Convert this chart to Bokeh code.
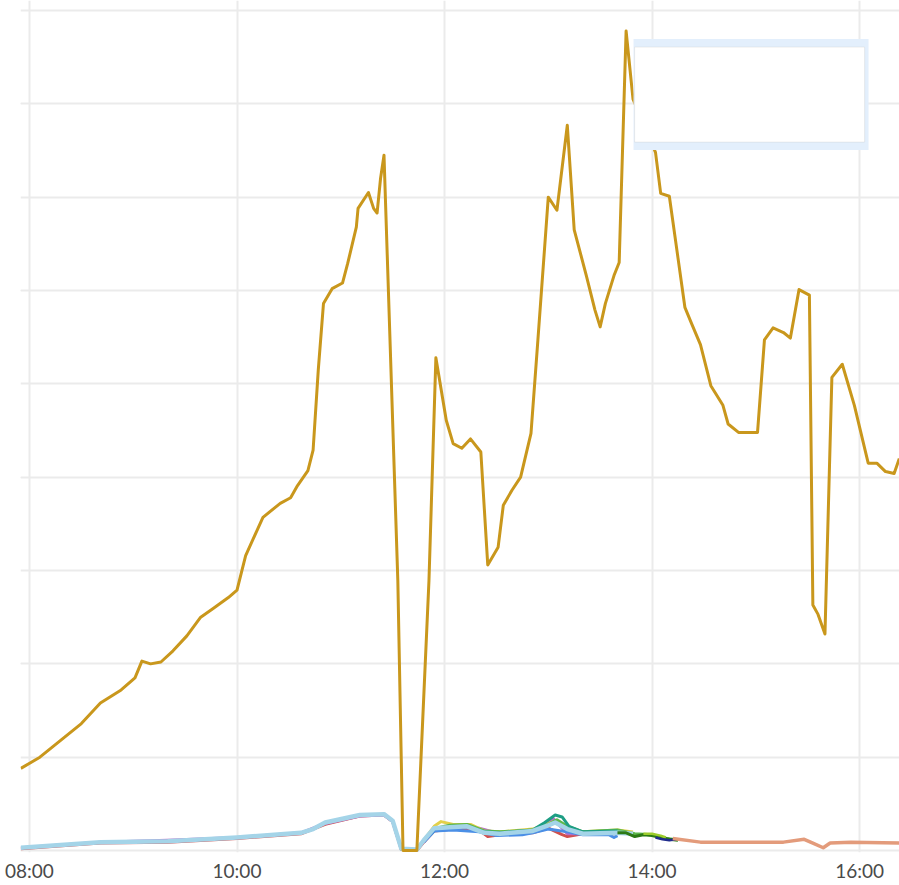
from datetime import datetime
from bokeh.plotting import figure
from bokeh.models import (Range1d, Grid, SingleIntervalTicker, FixedTicker,
                          DatetimeTickFormatter, BoxAnnotation)
from bokeh.embed import file_html
from bokeh.resources import INLINE

DAY = "2024-01-01"

# ---------------- data ----------------
tick_hours = ["08:00", "10:00", "12:00", "14:00", "16:00"]

total_t = ["07:55", "08:06", "08:18", "08:30", "08:41", "08:53", "09:01", "09:05", "09:10", "09:16",
           "09:23", "09:31", "09:39", "09:46", "09:55", "10:00", "10:05", "10:15", "10:25", "10:31",
           "10:35", "10:41", "10:44", "10:47", "10:50", "10:55", "11:01", "11:04", "11:09", "11:10",
           "11:16", "11:19", "11:21", "11:23", "11:25", "11:33", "11:36", "11:44", "11:51", "11:55",
           "12:01", "12:05", "12:10", "12:15", "12:21", "12:25", "12:31", "12:34", "12:39", "12:44",
           "12:50", "12:54", "13:00", "13:05", "13:11", "13:15", "13:22", "13:27", "13:30", "13:33",
           "13:38", "13:41", "13:45", "13:49", "14:02", "14:05", "14:10", "14:15", "14:19", "14:23",
           "14:28", "14:34", "14:41", "14:44", "14:50", "15:01", "15:05", "15:10", "15:16", "15:20",
           "15:25", "15:31", "15:33", "15:36", "15:40", "15:44", "15:50", "15:57", "16:05", "16:10",
           "16:15", "16:20", "16:23"]
total_v = [88, 100, 118, 136, 158, 172, 185, 203, 200, 202,
           214, 230, 250, 259, 271, 279, 316, 357, 372, 378,
           391, 407, 429, 515, 586, 602, 608, 629, 668, 688,
           705, 688, 683, 720, 745, 289, 0, 0, 289, 528,
           461, 436, 431, 441, 427, 306, 325, 370, 386, 400,
           447, 547, 700, 686, 777, 665, 616, 579, 561, 586,
           616, 630, 878, 805, 748, 704, 701, 635, 582, 564,
           542, 498, 477, 457, 448, 448, 547, 560, 555, 549,
           601, 595, 263, 253, 232, 507, 521, 477, 415, 415,
           406, 404, 420]

red_t = ["07:55", "08:41", "09:20", "10:00", "10:37", "10:51", "11:11", "11:25", "11:30", "11:35",
         "11:44", "11:48", "11:54", "12:05", "12:20", "12:25", "12:32", "12:51", "13:00", "13:08",
         "13:11", "13:20", "13:40"]
red_v = [2, 8, 9, 13, 18, 28, 37, 38, 31, 1, 0, 9, 21, 23, 22, 15, 17, 19, 24, 17, 15, 18, 18]

purple_t = ["07:55", "08:41", "09:20", "10:00", "10:37", "10:51", "11:11", "11:25", "11:30", "11:35",
            "11:44", "11:48", "11:54", "12:05", "12:20", "12:32", "12:51", "13:00", "13:03", "13:08",
            "13:11", "13:20", "13:40"]
purple_v = [3, 9, 11, 14, 19, 29, 37, 38, 31, 2, 1, 10, 22, 25, 24, 18, 21, 30, 34, 24, 18, 18, 19]

yellow_t = ["11:48", "11:54", "11:58", "12:05", "12:15", "12:23", "12:32", "12:51", "13:00", "13:05",
            "13:11", "13:20", "13:40", "13:49"]
yellow_v = [11, 26, 31, 28, 28, 21, 20, 23, 29, 32, 25, 20, 22, 20]

green_t = ["11:48", "11:55", "12:03", "12:13", "12:23", "12:32", "12:51", "13:00", "13:05", "13:11",
           "13:20", "13:40", "13:50", "14:00", "14:08", "14:12"]
green_v = [10, 24, 27, 28, 21, 20, 22, 28, 33, 26, 20, 22, 18, 17, 13, 12]

teal_t = ["11:48", "11:55", "12:05", "12:15", "12:23", "12:32", "12:51", "12:58", "13:04", "13:08",
          "13:12", "13:20", "13:40"]
teal_v = [10, 23, 26, 25, 20, 19, 22, 30, 38, 36, 26, 20, 21]

blue_t = ["11:48", "11:54", "12:05", "12:20", "12:30", "12:45", "12:51", "13:00", "13:11", "13:20",
          "13:35", "13:38", "13:40"]
blue_v = [9, 21, 22, 20, 16, 17, 19, 23, 20, 17, 17, 14, 16]

lightblue_t = ["07:55", "08:41", "09:20", "10:00", "10:37", "10:44", "10:51", "11:11", "11:25", "11:30",
               "11:35", "11:44", "11:48", "11:54", "12:03", "12:13", "12:23", "12:32", "12:51", "13:00",
               "13:04", "13:11", "13:20", "13:40", "13:49"]
lightblue_v = [3, 9, 10, 14, 19, 23, 30, 38, 39, 32, 2, 1, 11, 24, 25, 26, 19, 18, 21, 27,
               30, 23, 18, 19, 18]

darkgreen_t = ["13:40", "13:45", "13:50", "13:55", "14:00", "14:05", "14:10", "14:15"]
darkgreen_v = [19, 19, 15, 17, 16, 14, 12, 11]

lime_t = ["13:55", "14:00", "14:05", "14:08"]
lime_v = [18, 18, 16, 14]

navy_t = ["14:02", "14:06", "14:10", "14:14"]
navy_v = [14, 12, 11, 12]

salmon_t = ["14:12", "14:28", "14:38", "15:16", "15:28", "15:33", "15:39", "15:43", "15:55", "16:23"]
salmon_v = [13, 9, 9, 9, 12, 8, 3, 8, 9, 8]


def to_dt(lst):
    return [datetime.strptime(DAY + " " + s, "%Y-%m-%d %H:%M") for s in lst]


def ms(d):
    return (d - datetime(1970, 1, 1)).total_seconds() * 1000.0


x_start = datetime(2024, 1, 1, 7, 54, 48)
x_end = datetime(2024, 1, 1, 16, 23, 6)

p = figure(width=899, height=885, x_axis_type="datetime", y_axis_location=None,
           output_backend="svg", toolbar_location=None,
           x_range=Range1d(x_start, x_end), y_range=Range1d(-2.1, 910.7),
           min_border_left=20, min_border_right=0, min_border_top=0, min_border_bottom=33)
p.outline_line_color = None
p.background_fill_color = "white"
p.border_fill_color = "white"

p.xgrid.ticker = FixedTicker(ticks=[ms(d) for d in to_dt(tick_hours)])
p.xgrid.grid_line_color = "#ebebeb"
p.xgrid.grid_line_width = 2
p.add_layout(Grid(dimension=1, ticker=SingleIntervalTicker(interval=100),
                  grid_line_color="#ebebeb", grid_line_width=2))

ax = p.xaxis[0]
ax.ticker = FixedTicker(ticks=[ms(d) for d in to_dt(tick_hours)])
ax.formatter = DatetimeTickFormatter(hours="%H:%M", minutes="%H:%M", days="%H:%M")
ax.axis_line_color = None
ax.major_tick_line_color = None
ax.minor_tick_line_color = None
ax.major_tick_out = 0
ax.major_tick_in = 0
ax.minor_tick_out = 0
ax.minor_tick_in = 0
ax.major_label_standoff = 6
ax.major_label_text_font = "Lato"
ax.major_label_text_font_size = "19px"
ax.major_label_text_color = "#4a4a4a"

series = [
    (red_t, red_v, "#d0504e", 3.0),
    (purple_t, purple_v, "#b46cc9", 3.0),
    (yellow_t, yellow_v, "#e2d04a", 3.0),
    (green_t, green_v, "#5db84a", 3.0),
    (teal_t, teal_v, "#1e9e84", 3.0),
    (blue_t, blue_v, "#4b8fe6", 3.0),
    (lightblue_t, lightblue_v, "#a4d4e8", 4.5),
    (darkgreen_t, darkgreen_v, "#2c7a14", 3.0),
    (lime_t, lime_v, "#9ccc2c", 2.5),
    (navy_t, navy_v, "#1f2b8c", 2.5),
    (salmon_t, salmon_v, "#e39b7b", 3.5),
]
for t, v, c, w in series:
    p.line(to_dt(t), v, line_color=c, line_width=w, line_join="round")

p.line(to_dt(total_t), total_v, line_color="#c9971c", line_width=3.0, line_join="round")

# empty legend box
p.add_layout(BoxAnnotation(left=datetime(2024, 1, 1, 13, 49, 18), right=datetime(2024, 1, 1, 16, 5, 12),
                           bottom=750.4, top=869.4,
                           fill_color="#e3effc", fill_alpha=1.0, line_color=None))
p.add_layout(BoxAnnotation(left=datetime(2024, 1, 1, 13, 49, 54), right=datetime(2024, 1, 1, 16, 2, 54),
                           bottom=759.0, top=860.8,
                           fill_color="white", fill_alpha=1.0,
                           line_color="#c8c8c8", line_width=1))

open("out.html", "w").write(file_html(p, INLINE))
